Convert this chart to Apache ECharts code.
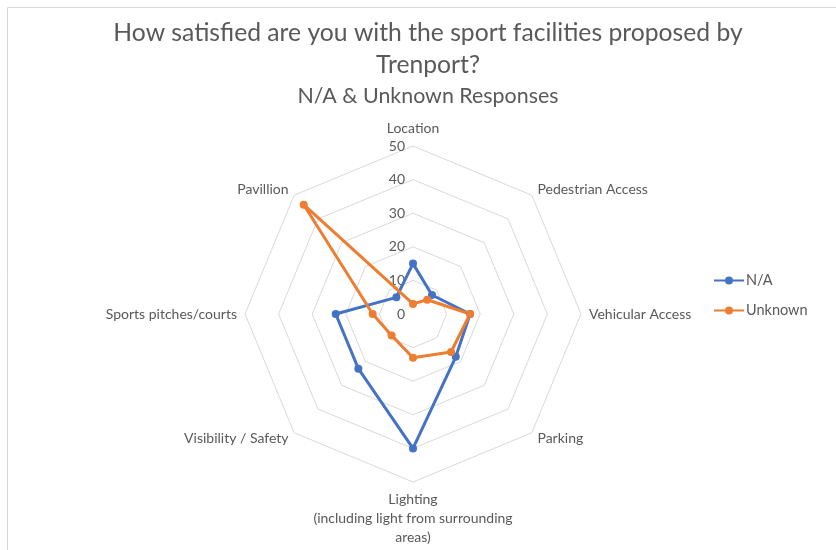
<!DOCTYPE html>
<html>
<head>
<meta charset="utf-8">
<script src="https://cdn.jsdelivr.net/npm/echarts@6/dist/echarts.min.js"></script>
<style>
  html, body { margin: 0; padding: 0; background: #ffffff; }
  #chart { width: 836px; height: 550px; }
</style>
</head>
<body>
<div id="chart"></div>
<script>
// Categories listed clockwise starting at the top
const categories = [
  'Location',
  'Pedestrian Access',
  'Vehicular Access',
  'Parking',
  'Lighting\n(including light from surrounding\nareas)',
  'Visibility / Safety',
  'Sports pitches/courts',
  'Pavillion'
];
const naValues      = [15, 8, 17, 18, 40, 23, 23, 7];
const unknownValues = [3, 6, 17, 16, 13, 9, 12, 46];
const seriesNames = ['N/A', 'Unknown'];
const seriesColors = ['#4472C4', '#ED7D31'];
const axisMax = 50;
const axisInterval = 10;

// ECharts lays radar indicators counter-clockwise, so keep the first and reverse the rest
function clockwise(arr) {
  return [arr[0]].concat(arr.slice(1).reverse());
}

const textColor = '#595959';
const fontFamily = 'Lato, "Open Sans", sans-serif';
// legend marker: a short line with a dot in the middle
const lineDotIcon = 'path://M0,3.5L30,3.5L30,5.5L0,5.5Z M19,4.5A4,4 0 1 1 11,4.5A4,4 0 1 1 19,4.5Z';

const indicators = clockwise(categories).map(function (name, i) {
  const ind = { name: name, min: 0, max: axisMax };
  if (i === 0) {
    ind.axisLabel = { show: true };
  }
  return ind;
});

const chart = echarts.init(document.getElementById('chart'), null, { renderer: 'canvas' });
chart.setOption({
  backgroundColor: '#ffffff',
  animation: false,
  textStyle: { fontFamily: fontFamily },
  graphic: [{
    type: 'rect',
    shape: { x: 7.5, y: 7.5, width: 900, height: 600 },
    style: { fill: 'none', stroke: '#d9d9d9', lineWidth: 1 },
    silent: true
  }],
  title: [{
    text: 'How satisfied are you with the sport facilities proposed by\nTrenport?',
    left: 423,
    textAlign: 'center',
    top: 12,
    padding: 5,
    textStyle: { fontFamily: fontFamily, fontSize: 24.7, fontWeight: 'normal', color: textColor, lineHeight: 32 }
  }, {
    text: 'N/A & Unknown Responses',
    left: 423,
    textAlign: 'center',
    top: 81,
    padding: 5,
    textStyle: { fontFamily: fontFamily, fontSize: 21.4, fontWeight: 'normal', color: textColor }
  }],
  legend: {
    orient: 'vertical',
    left: 709,
    top: 268,
    itemWidth: 30,
    itemHeight: 9,
    itemGap: 15,
    icon: lineDotIcon,
    data: seriesNames,
    textStyle: { fontFamily: fontFamily, fontSize: 14.5, color: textColor, padding: [0, 0, 0, -3] }
  },
  radar: {
    center: [413, 314],
    radius: 168,
    startAngle: 90,
    splitNumber: axisMax / axisInterval,
    shape: 'polygon',
    nameGap: 8,
    axisName: { color: textColor, fontSize: 14, fontFamily: fontFamily, lineHeight: 19 },
    axisLine: { show: false },
    axisTick: { show: false },
    axisLabel: { show: false, color: textColor, fontSize: 14, fontFamily: fontFamily, margin: 8 },
    splitLine: { lineStyle: { color: '#d9d9d9', width: 1 } },
    splitArea: { show: false },
    indicator: indicators
  },
  series: [{
    type: 'radar',
    symbol: 'circle',
    symbolSize: 8,
    data: [{
      name: seriesNames[0],
      value: clockwise(naValues),
      itemStyle: { color: seriesColors[0] },
      lineStyle: { color: seriesColors[0], width: 3 }
    }, {
      name: seriesNames[1],
      value: clockwise(unknownValues),
      itemStyle: { color: seriesColors[1] },
      lineStyle: { color: seriesColors[1], width: 3 }
    }]
  }]
});
</script>
</body>
</html>
